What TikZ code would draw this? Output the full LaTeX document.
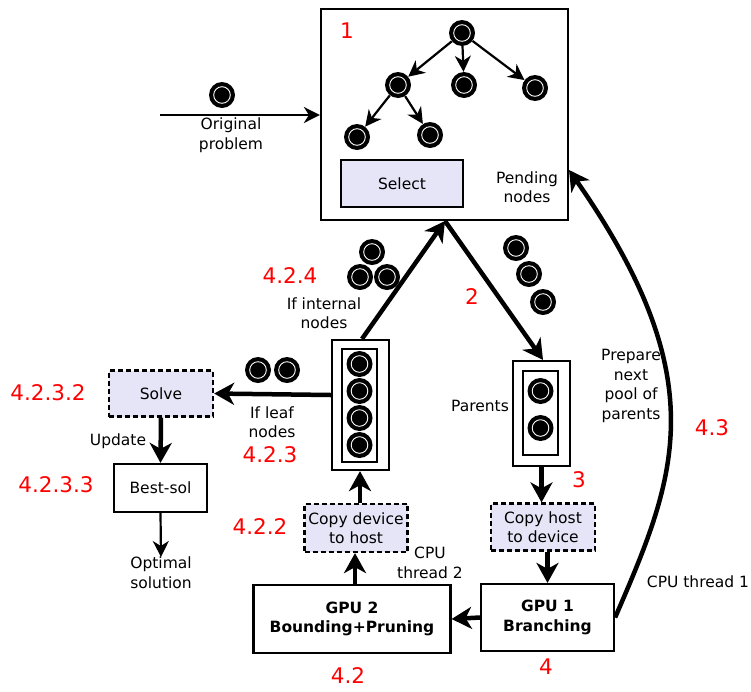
\documentclass[tikz,border=0pt]{standalone}
\usepackage{fontspec}
\setmainfont{DejaVu Sans}
\usetikzlibrary{arrows.meta}
\definecolor{lav}{RGB}{229,229,247}
\definecolor{stepred}{RGB}{255,0,0}
\begin{document}
\begin{tikzpicture}[x=1pt,y=-1pt,
  every node/.style={font=\fontsize{15.5}{19.5}\selectfont, inner sep=0pt},
  box/.style={draw, line width=2.2pt, minimum width=#1},
  dbox/.style={draw, line width=2.2pt, dash pattern=on 5pt off 3pt, fill=lav, align=center},
  num/.style={text=stepred, font=\fontsize{21.5}{26}\selectfont},
  lbl/.style={align=center},
  tok/.style={circle, fill=black, minimum size=26pt, inner sep=0pt,
    path picture={\draw[white, line width=0.9pt] (path picture bounding box.center) circle (8.3pt);}},
  bigarrow/.style={line width=4.5pt, -{Stealth[length=20pt,width=22pt,inset=6pt]}},
  thinarrow/.style={line width=2.2pt, -{Stealth[length=16pt,width=16pt,inset=5pt]}},
]
\useasboundingbox[fill=white] (0,0) rectangle (751,691);

% pool of pending nodes
\node[draw, line width=2.2pt, minimum width=247pt, minimum height=211pt] (top) at (444.5,114.5) {};
\node[num] (n1) at (347,31) {1};
\node[tok] (r) at (462,33) {};
\node[tok] (c1) at (398,85) {};
\node[tok] (c2) at (464,85) {};
\node[tok] (c3) at (535,88) {};
\node[tok] (g1) at (357,137) {};
\node[tok] (g2) at (430,135) {};
\draw[thinarrow] (r) -- (c1);
\draw[thinarrow] (r) -- (c2);
\draw[thinarrow] (r) -- (c3);
\draw[thinarrow] (c1) -- (g1);
\draw[thinarrow] (c1) -- (g2);
\node[draw, line width=2.2pt, fill=lav, minimum width=122pt, minimum height=47pt] (sel) at (402,183.5) {Select};
\node[lbl] (pend) at (527,187) {Pending\\nodes};

% original problem
\node[tok] (o) at (222,95) {};
\coordinate (ostart) at (160,115);
\draw[thinarrow] (ostart) -- (top.west |- ostart);
\node[lbl] (olab) at (231,135) {Original\\problem};

% exchange points on the edges of the pool
\coordinate (tb) at (445,221);
\coordinate (ret) at (569,170);

% children container (left)
\node[draw, line width=2.2pt, minimum width=57pt, minimum height=130pt] (lc) at (360.5,405) {};
\node[draw, line width=2.2pt, minimum width=35pt, minimum height=113pt] (lci) at (359.5,405.5) {};
\node[tok] (l1) at (359.5,364) {};
\node[tok] (l2) at (359.5,391) {};
\node[tok] (l3) at (359.5,418) {};
\node[tok] (l4) at (359.5,445) {};

% parents container (right)
\node[draw, line width=2.2pt, minimum width=57pt, minimum height=105pt] (rc) at (541.5,413.5) {};
\node[draw, line width=2.2pt, minimum width=35pt, minimum height=84pt] (rci) at (540.5,413) {};
\node[tok] (p1) at (540.5,391) {};
\node[tok] (p2) at (540.5,428) {};
\node[lbl] (par) at (480,406) {Parents};

% internal nodes going back to the pool
\draw[bigarrow] (lc.north) ++(1.5,0) coordinate (lcn) -- (tb);
\node[tok] (i1) at (372,252) {};
\node[tok] (i2) at (360,277) {};
\node[tok] (i3) at (387,277) {};
\node[num] (n424) at (290,276) {4.2.4};
\node[lbl] (intl) at (324,313) {If internal\\nodes};

% selected parents
\draw[bigarrow] (tb) -- ([xshift=1.5pt]rc.north);
\node[tok] (s1) at (516,248) {};
\node[tok] (s2) at (529,274) {};
\node[tok] (s3) at (543,302) {};
\node[num] (n2) at (472,297) {2};

% leaf nodes
\node[dbox, minimum width=104pt, minimum height=46pt] (solve) at (161,393.5) {Solve};
\node[num] (n4232) at (48,393) {4.2.3.2};
\draw[bigarrow] (lc.west) ++(0,-10) coordinate (lcw) -- (solve.east);
\node[tok] (f1) at (258,370) {};
\node[tok] (f2) at (287,370) {};
\node[lbl] (leaf) at (272,422) {If leaf\\nodes};
\node[num] (n423) at (270,455) {4.2.3};

% best solution
\node[box=93pt, minimum height=48pt] (best) at (160.5,488) {Best-sol};
\node[num] (n4233) at (56,485) {4.2.3.3};
\draw[bigarrow] (solve.south) -- (best.north);
\node[lbl] (upd) at (118,441) {Update};
\node[lbl, anchor=north] (opt) at (161,557) {Optimal\\solution};
\draw[thinarrow] (best.south) -- (opt.north);

% transfers
\node[dbox, minimum width=103pt, minimum height=48pt] (d2h) at (356,528) {Copy device\\to host};
\node[num] (n422) at (260,527) {4.2.2};
\node[dbox, minimum width=104pt, minimum height=47pt] (h2d) at (543,527) {Copy host\\to device};
\node[num] (n3) at (579,480) {3};

% GPU kernels
\node[box=197pt, minimum height=68pt, align=center, font=\fontsize{15.5}{19.5}\selectfont\bfseries] (gpu2) at (352,619) {GPU 2\\Bounding+Pruning};
\node[box=133pt, minimum height=67pt, align=center, font=\fontsize{15.5}{19.5}\selectfont\bfseries] (gpu1) at (547.5,617.5) {GPU 1\\Branching};
\node[num] (n42) at (348,676) {4.2};
\node[num] (n4) at (546,667) {4};
\node[lbl] (cpu2) at (430,563) {CPU\\thread 2};
\node[lbl] (cpu1) at (698,582) {CPU thread 1};

\draw[bigarrow] (rc.south) -- (rc.south |- h2d.north);
\draw[bigarrow] (h2d.south -| gpu1.north) -- (gpu1.north);
\draw[bigarrow] (gpu1.west) -- (gpu2.east);
\draw[bigarrow] (gpu2.north -| d2h.south) ++(-1,0) coordinate (g2n) -- (g2n |- d2h.south);
\draw[bigarrow] (d2h.north) ++(4,0) coordinate (d2n) -- (d2n |- lc.south);

% next pool of parents
\draw[bigarrow] (gpu1.east) .. controls (676,477) and (716,381) .. (ret);
\node[lbl] (prep) at (631,386) {Prepare\\next\\pool of\\parents};
\node[num] (n43) at (712,428) {4.3};
\end{tikzpicture}
\end{document}
